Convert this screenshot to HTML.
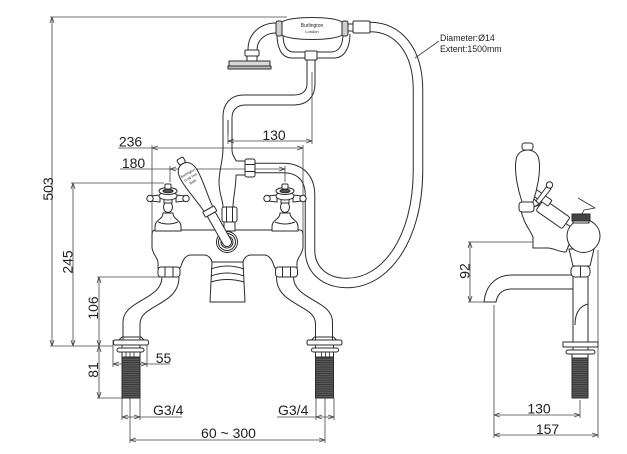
<!DOCTYPE html>
<html><head><meta charset="utf-8"><style>
html,body{margin:0;padding:0;background:#fff;}
svg{display:block;}
text{font-family:"Liberation Sans",Arial,sans-serif;fill:#222;}
</style></head><body>
<svg width="627" height="454" viewBox="0 0 627 454" xmlns="http://www.w3.org/2000/svg">
<defs>
<marker id="ae" viewBox="0 0 6 6" markerWidth="6" markerHeight="6" refX="6" refY="3" orient="auto" markerUnits="userSpaceOnUse"><path d="M0,1 L6,3 L0,5" fill="none" stroke="#444" stroke-width="0.8"/></marker>
<marker id="as" viewBox="0 0 6 6" markerWidth="6" markerHeight="6" refX="0" refY="3" orient="auto" markerUnits="userSpaceOnUse"><path d="M6,1 L0,3 L6,5" fill="none" stroke="#444" stroke-width="0.8"/></marker>
<pattern id="thr" width="4" height="2.2" patternUnits="userSpaceOnUse"><rect width="4" height="2.2" fill="#5a5a5a"/><rect y="1.4" width="4" height="0.8" fill="#333"/></pattern>
</defs>
<rect width="627" height="454" fill="#fff"/>

<!-- HOSE (behind) -->
<path d="M255,168 H283 C300,168 310,178 310,195 V250 C310,270 325,283 347,283 C385,283 418,240 418,170 V90 C418,50 398,27 370,27" fill="none" stroke="#2b2b2b" stroke-width="10.5"/>
<path d="M255,168 H283 C300,168 310,178 310,195 V250 C310,270 325,283 347,283 C385,283 418,240 418,170 V90 C418,50 398,27 370,27" fill="none" stroke="#fff" stroke-width="8.5"/>

<!-- DIMENSION / EXTENSION LINES -->
<g fill="none" stroke="#444" stroke-width="0.8">
<path d="M50,17 H287"/>
<path d="M71,183 H164"/>
<path d="M50,346 H113"/>
<path d="M97,277 H160"/>
<path d="M97,398 H122"/>
<path d="M113,340 V367 M147,340 V367"/>
<path d="M147,364 H170"/>
<path d="M122,398 V420 M140,398 V420 M130,398 V443"/>
<path d="M140,417 H182"/>
<path d="M316,398 V420 M334,398 V420 M325,398 V443"/>
<path d="M277,417 H316"/>
<path d="M118,148 H152"/>
<path d="M152,145 V236 M303,145 V236"/>
<path d="M120,169 H170"/>
<path d="M170,166 V182 M285,166 V182"/>
<path d="M228,120 V144 M312,72 V144"/>
<path d="M468,242 H533 M468,302 H485"/>
<path d="M580,400 V418 M494,305 V438 M598,250 V438"/>
<path d="M439,41 L415,58"/>
</g>
<g fill="none" stroke="#444" stroke-width="0.8" marker-start="url(#as)" marker-end="url(#ae)">
<path d="M52,17 V346"/>
<path d="M73,183 V346"/>
<path d="M99,277 V346"/>
<path d="M99,346 V398"/>
<path d="M113,364 H147"/>
<path d="M122,417 H140"/>
<path d="M316,417 H334"/>
<path d="M130,440 H325"/>
<path d="M152,148 H303"/>
<path d="M170,169 H285"/>
<path d="M228,141 H312"/>
<path d="M470,242 V302"/>
<path d="M494,415 H580"/>
<path d="M494,435 H598"/>
</g>

<!-- DRAWING -->
<g stroke="#2b2b2b" stroke-width="1" fill="#fff" stroke-linejoin="round">

<!-- hand shower -->
<path d="M276,23 C262,23 248,32 248,50" fill="none"/>
<path d="M276,33 C265,33 257,40 257,50" fill="none"/>
<rect x="245" y="50" width="14" height="6" rx="1"/>
<rect x="247" y="56" width="10" height="5"/>
<rect x="229" y="61" width="41" height="5" fill="#d8d8d8"/>
<rect x="228" y="66" width="43" height="3" fill="#bbb"/>
<path d="M277,34 C277,45 280,58 292,58 H334 C346,58 350,45 350,34" fill="none"/>
<path d="M283,34 C283,45 286,52 294,52 H331 C339,52 343,45 343,34" fill="none"/>
<rect x="305" y="51" width="12" height="9" rx="1"/>
<path d="M282,22 C290,16 334,16 342,22 V35 C334,41 290,41 282,35 Z"/>
<rect x="276" y="21" width="6" height="15" rx="2" fill="#cfcfcf"/>
<rect x="342" y="21" width="6" height="15" rx="2" fill="#cfcfcf"/>
<rect x="348" y="24" width="5" height="7"/>
<rect x="353" y="21" width="17" height="12" rx="1"/>

<!-- riser -->
<path d="M315,60 V84 C315,97 307,105 294,105 H245 C237,105 232,110 232,118 V150 C232,156 236,159 236,161" fill="none"/>
<path d="M307,60 V84 C307,91 302,95 294,95 H243 C231,95 223,104 223,116 V148 C223,162 219,170 219,182 C219,194 223,200 223,207" fill="none"/>
<path d="M236,175 C236,188 233,198 233,207" fill="none"/>
<path d="M236,161 H245 M236,175 H245" fill="none"/>
<rect x="245" y="159" width="10" height="18" rx="2"/>
<path d="M245,164.5 H255 M245,171.5 H255" fill="none"/>
<path d="M228,120 V135" fill="none" stroke-width="0.8"/>

<!-- body -->
<path d="M155,230 H300 C302,230 303,232 303,235 V247 C303,253 298,257 297,262 L297,268 H275 L274,266 C272,259 269,255 264,255 H251 C247,255 244,258 243,262 H212 C211,258 208,255 204,255 H191 C186,255 183,259 181,266 L180,268 H158 L158,262 C157,257 152,253 152,247 V235 C152,232 153,230 155,230 Z"/>
<rect x="224" y="221" width="11" height="10"/>
<rect x="222" y="207" width="15" height="15" rx="2"/>
<path d="M226.5,207 V222 M232.5,207 V222" fill="none"/>

<!-- spout front -->
<path d="M212,262 L210,302 H245 L243,262 Z"/>
<path d="M211,269 Q227,263 244,269 M211,276 Q227,270 244,276 M211,282 Q227,277 244,282" fill="none"/>

<!-- outlet circles -->
<circle cx="227" cy="242" r="10.5"/>
<circle cx="227" cy="242" r="8.5"/>
<circle cx="227" cy="242" r="6"/>

<!-- taps -->
<g id="tapL">
<path d="M163,213 C163,220 155,219 155,227 V231 H181 V227 C181,219 173,220 173,213 Z"/>
<path d="M158,222 Q168,226 178,222" fill="none"/>
<ellipse cx="168" cy="207" rx="4.5" ry="5.5"/>
<rect x="164" y="199" width="8" height="4"/>
<path d="M160,195 L151,196 L151,201 L160,202 Z"/>
<path d="M176,195 L185,196 L185,201 L176,202 Z"/>
<circle cx="150" cy="198.5" r="3.2"/>
<circle cx="186" cy="198.5" r="3.2"/>
<ellipse cx="168" cy="196" rx="9" ry="4"/>
<ellipse cx="168" cy="191" rx="9" ry="3.5"/>
<rect x="165" y="184" width="6" height="5" rx="1"/>
<ellipse cx="168" cy="191" rx="5" ry="1.8" fill="#555"/>
</g>
<g transform="translate(117,0)">
<path d="M163,213 C163,220 155,219 155,227 V231 H181 V227 C181,219 173,220 173,213 Z"/>
<path d="M158,222 Q168,226 178,222" fill="none"/>
<ellipse cx="168" cy="207" rx="4.5" ry="5.5"/>
<rect x="164" y="199" width="8" height="4"/>
<path d="M160,195 L151,196 L151,201 L160,202 Z"/>
<path d="M176,195 L185,196 L185,201 L176,202 Z"/>
<circle cx="150" cy="198.5" r="3.2"/>
<circle cx="186" cy="198.5" r="3.2"/>
<ellipse cx="168" cy="196" rx="9" ry="4"/>
<ellipse cx="168" cy="191" rx="9" ry="3.5"/>
<rect x="165" y="184" width="6" height="5" rx="1"/>
<ellipse cx="168" cy="191" rx="5" ry="1.8" fill="#555"/>
</g>

<!-- diverter lever -->
<g transform="translate(227,242) rotate(-29.5)">
<path d="M-4.5,0 V-32 H4.5 V0 A4.5,4.5 0 0 1 -4.5,0 Z"/>
<rect x="-6.5" y="-38" width="13" height="6" rx="1"/>
<path d="M-5,-38 C-6,-52 -9.5,-64 -9.5,-77 C-9.5,-85 -6,-90 0,-90 C6,-90 9.5,-85 9.5,-77 C9.5,-64 6,-52 5,-38 Z"/>
<rect x="-3.5" y="-96" width="7" height="6" rx="1.5"/>
</g>
<g transform="translate(227,242) rotate(-29.5)" stroke="none">
<text x="0" y="-78" font-size="3.6" text-anchor="middle" fill="#444">Burlington</text>
<text x="0" y="-73" font-size="3.6" text-anchor="middle" fill="#444">Cold Hot</text>
<text x="0" y="-68" font-size="3.6" text-anchor="middle" fill="#444">Bath</text>
</g>

<!-- left pipe -->
<g id="pipeL">
<path d="M162,277 C162,300 123,300 123,322 V340" fill="none"/>
<path d="M179,277 C179,306 140,304 140,324 V340" fill="none"/>
<rect x="158" y="267" width="22" height="10" rx="3"/>
<path d="M165,267 V277 M173,267 V277" fill="none"/>
<path d="M119,340 L122,337 H141 L144,340" fill="none"/>
<path d="M115,340 H147 C149,340 149,345 147,345 H115 C113,345 113,340 115,340 Z"/>
<rect x="117" y="348" width="27" height="4" rx="2"/>
<path d="M122,345 V348 M140,345 V348" fill="none"/>
<rect x="122" y="352" width="18" height="5"/>
<path d="M126,352 V357 M130,352 V357 M134,352 V357" fill="none" stroke-width="0.8"/>
<rect x="122" y="357" width="18" height="41" fill="url(#thr)"/>
</g>
<g transform="translate(455.5,0) scale(-1,1)">
<path d="M162,277 C162,300 123,300 123,322 V340" fill="none"/>
<path d="M179,277 C179,306 140,304 140,324 V340" fill="none"/>
<rect x="158" y="267" width="22" height="10" rx="3"/>
<path d="M165,267 V277 M173,267 V277" fill="none"/>
<path d="M119,340 L122,337 H141 L144,340" fill="none"/>
<path d="M115,340 H147 C149,340 149,345 147,345 H115 C113,345 113,340 115,340 Z"/>
<rect x="117" y="348" width="27" height="4" rx="2"/>
<path d="M122,345 V348 M140,345 V348" fill="none"/>
<rect x="122" y="352" width="18" height="5"/>
<path d="M126,352 V357 M130,352 V357 M134,352 V357" fill="none" stroke-width="0.8"/>
<rect x="122" y="357" width="18" height="41" fill="url(#thr)"/>
</g>

<!-- SIDE VIEW -->
<path d="M573,277 V342 M588,277 V342" fill="none"/>
<path d="M575,325 C575,312 580,306 588,304" fill="none"/>
<path d="M573,275 H512 C497,275 488,284 485,296 L484,302 H496 C497,296 501,289 511,289 H573 Z"/>
<path d="M569,249 L573,266 H590 L594,249 Z"/>
<rect x="571" y="266" width="19" height="11" rx="4"/>
<path d="M580.5,266 V277" fill="none"/>
<path d="M563,342 H598 V347 H563 Z"/>
<rect x="566" y="350" width="29" height="4" rx="2"/>
<path d="M573,347 V350 M588,347 V350" fill="none"/>
<rect x="572" y="354" width="16" height="4"/>
<rect x="572" y="358" width="16" height="40" fill="url(#thr)"/>

<!-- side bracket -->
<path d="M521,210 C523,222 530,230 533,237 V248 H548 C554,248 558,252 566,252 L575,230 L540,205 Z"/>
<g transform="translate(553,214) rotate(35)"><rect x="-16" y="-7" width="32" height="14" rx="2"/></g>
<circle cx="583.5" cy="236" r="16.5"/>
<rect x="572" y="214" width="18" height="7" fill="#444"/>
<rect x="573" y="221" width="16" height="2" />
<path d="M578,198 L595,208 L584,210 L582,214" fill="none" stroke-width="0.8"/>
<g transform="translate(541,197) rotate(35)"><rect x="-11" y="-3.5" width="22" height="7" rx="1"/></g>
<path d="M536,201 L547,186 L551,189 L539,204 Z"/>
<circle cx="549.5" cy="185" r="3.2"/>
<path d="M531,196 L539,204 L534,207 L527,200 Z"/>
<rect x="519" y="202" width="15" height="10" rx="3"/>
<path d="M516,160 C514,172 518,190 522,202 H533 C537,190 541,172 539,160 C538,153 533,150 527.5,150 C522,150 517,153 516,160 Z"/>
<rect x="522" y="143" width="11" height="7" rx="2.5"/>
</g>

<!-- small decorative texts -->
<text x="312" y="27" font-size="5" text-anchor="middle" fill="#aaa">Burlington</text>
<text x="312" y="33" font-size="4" text-anchor="middle" fill="#aaa">London</text>

<!-- LABELS -->
<g font-size="14">
<text transform="translate(53,189) rotate(-90)" text-anchor="middle">503</text>
<text transform="translate(72.5,262) rotate(-90)" text-anchor="middle">245</text>
<text transform="translate(98,308) rotate(-90)" text-anchor="middle">106</text>
<text transform="translate(98,370) rotate(-90)" text-anchor="middle">81</text>
<text transform="translate(469.5,271) rotate(-90)" text-anchor="middle">92</text>
<text x="130.5" y="146.5" text-anchor="middle">236</text>
<text x="133.5" y="168" text-anchor="middle">180</text>
<text x="274" y="140" text-anchor="middle">130</text>
<text x="163.5" y="363" text-anchor="middle">55</text>
<text x="153" y="415">G3/4</text>
<text x="278" y="415">G3/4</text>
<text x="228.5" y="438" text-anchor="middle">60 ~ 300</text>
<text x="539" y="413.5" text-anchor="middle">130</text>
<text x="547.5" y="434" text-anchor="middle">157</text>
</g>
<text x="440" y="41" font-size="8.8">Diameter:Ø14</text>
<text x="440" y="52" font-size="8.8">Extent:1500mm</text>
</svg>
</body></html>
